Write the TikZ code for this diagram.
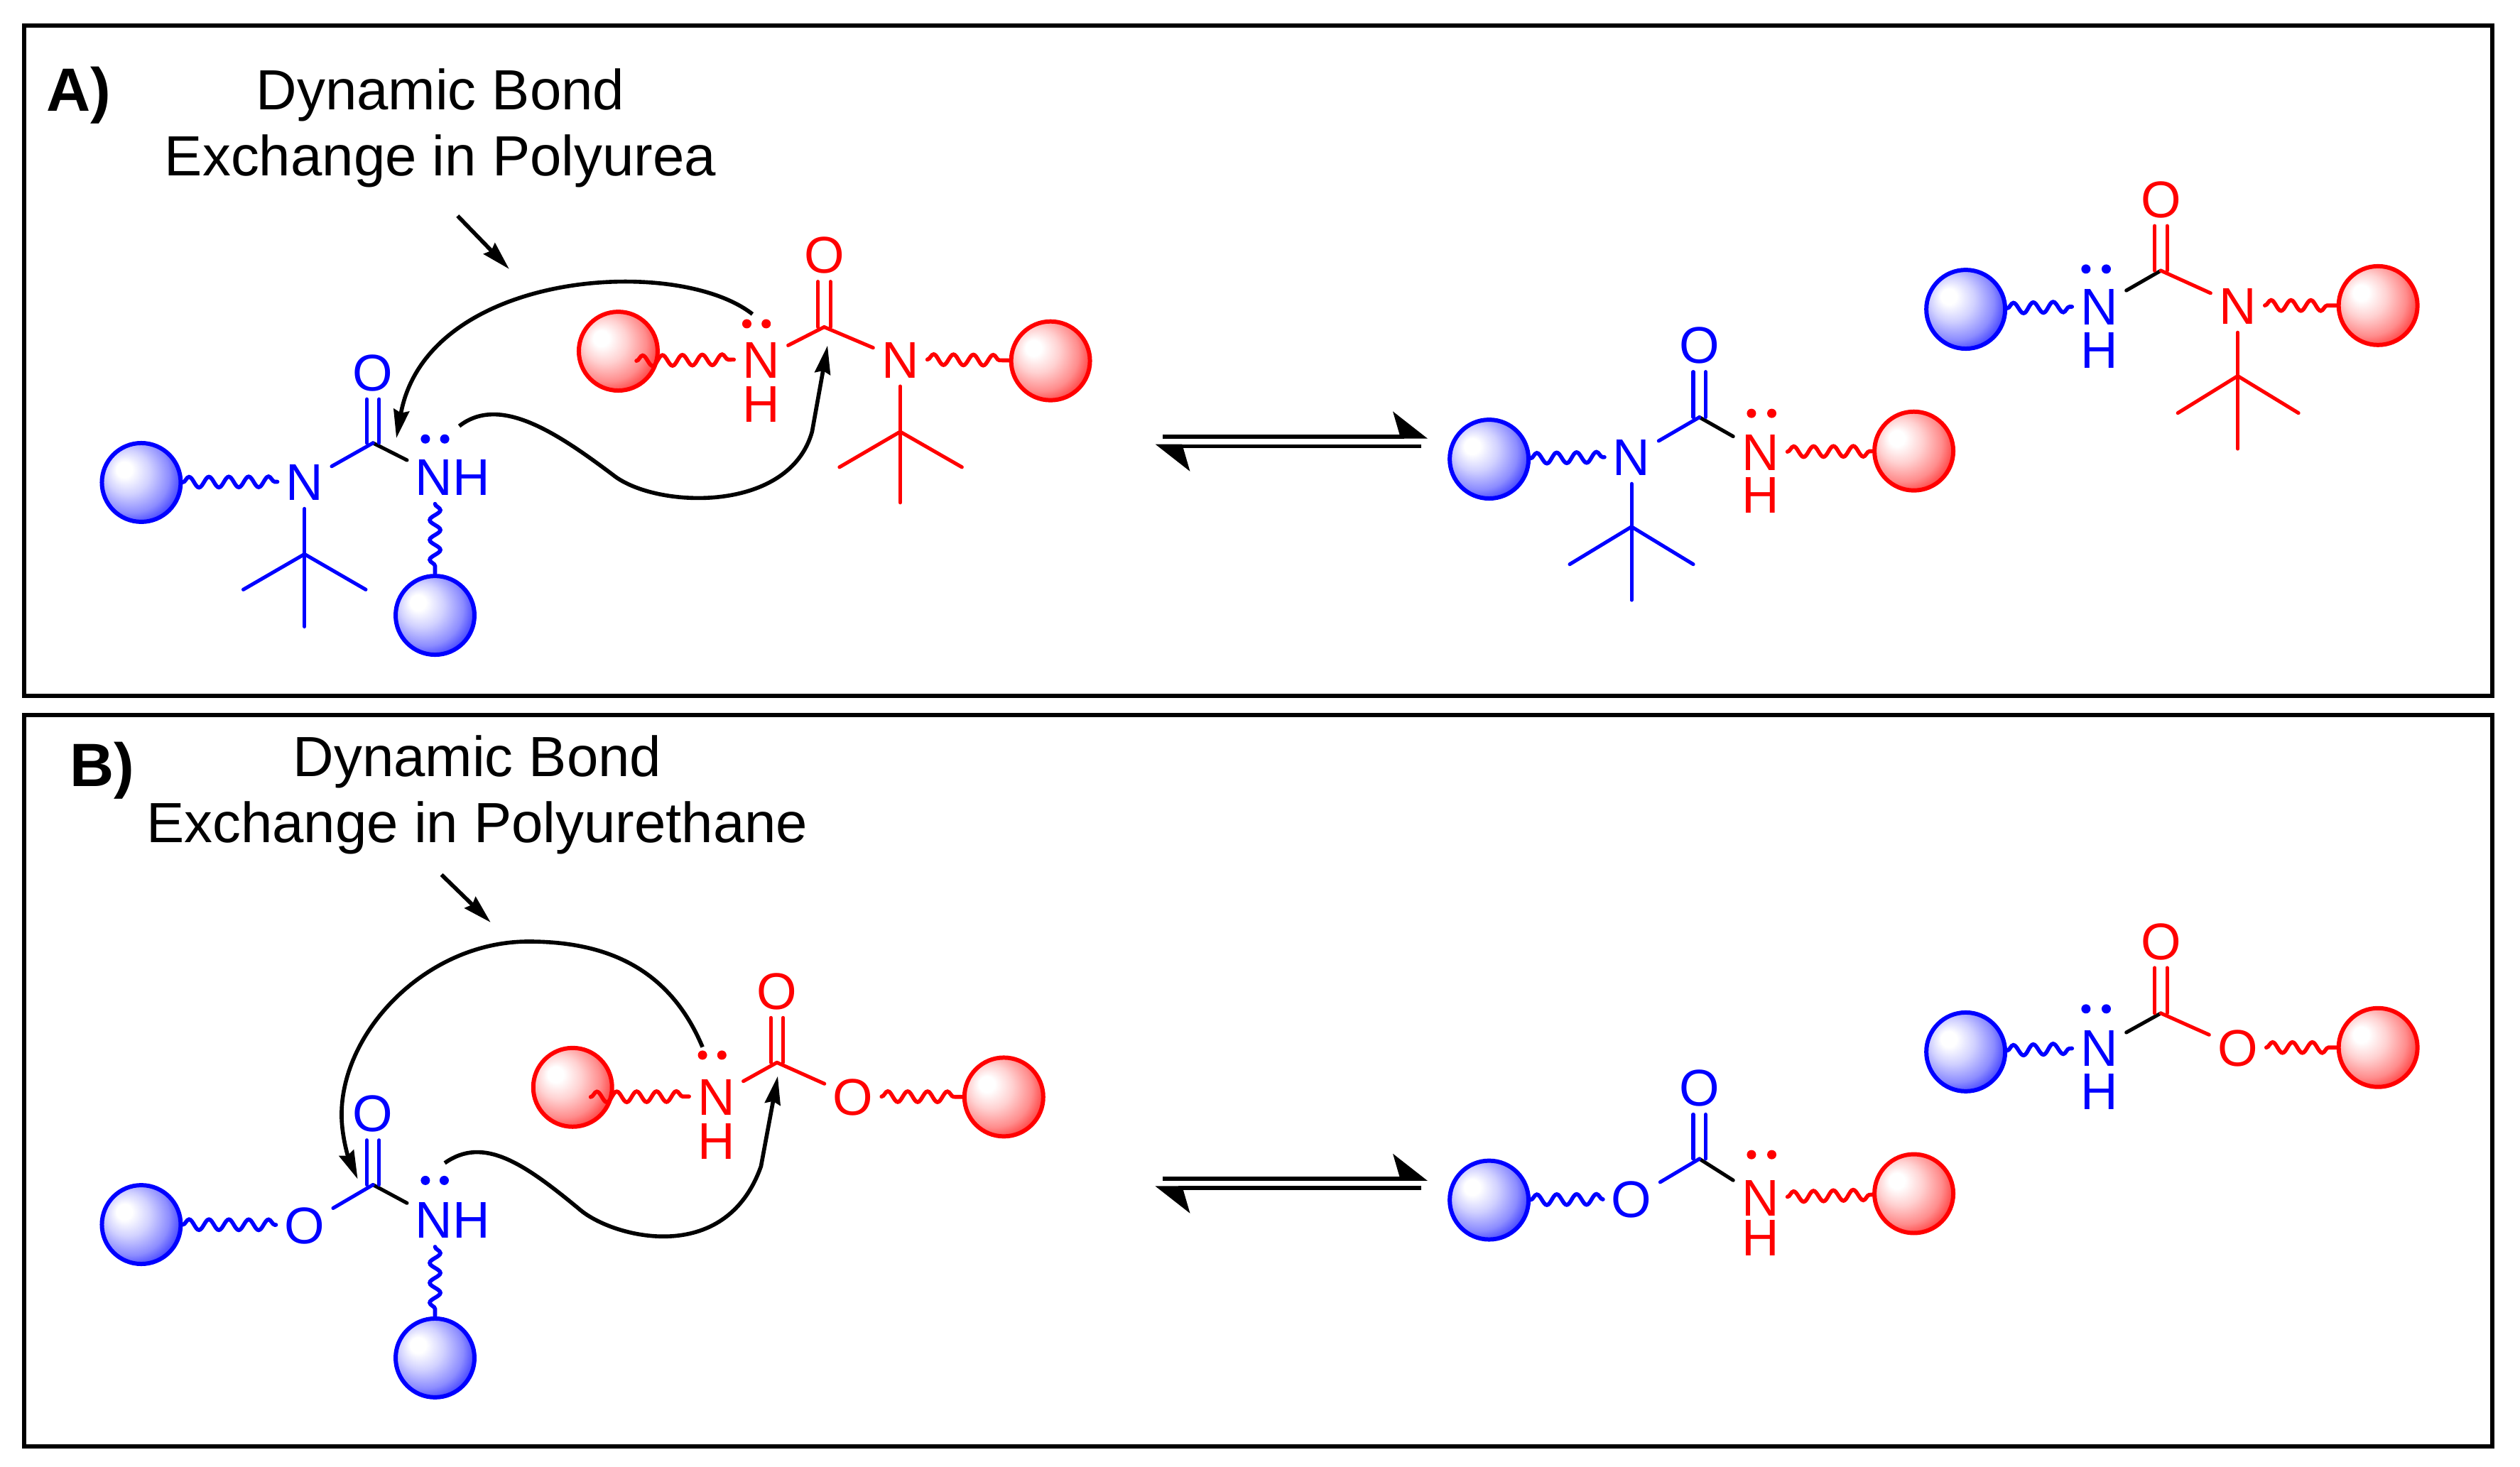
\documentclass[tikz,border=0pt]{standalone}
\usepackage{fontspec}
\setmainfont{Liberation Sans}
\usetikzlibrary{arrows.meta,decorations.pathmorphing}
\pgfdeclareradialshading{blueball}{\pgfpoint{-12bp}{9bp}}{color(0bp)=(white);color(5bp)=(white);color(14bp)=(blue!18!white);color(24bp)=(blue!45!white);color(33bp)=(blue!85!white);color(40bp)=(blue);color(50bp)=(blue)}
\pgfdeclareradialshading{redball}{\pgfpoint{-12bp}{9bp}}{color(0bp)=(white);color(5bp)=(white);color(14bp)=(red!18!white);color(24bp)=(red!45!white);color(33bp)=(red!85!white);color(40bp)=(red);color(50bp)=(red)}
\tikzset{
  atom/.style={text=#1,font=\fontsize{20.7}{24}\selectfont,inner sep=3.2pt,text height=14.9pt,text depth=0pt},
  title/.style={font=\fontsize{22.7}{26}\selectfont},
  tag/.style={font=\fontsize{24.5}{28}\selectfont\bfseries},
  ballblue/.style={circle,draw=blue,line width=1.7pt,minimum size=1.11cm,inner sep=0pt,shade,shading=blueball},
  ballred/.style={circle,draw=red,line width=1.7pt,minimum size=1.11cm,inner sep=0pt,shade,shading=redball},
  lonepair/.style={circle,fill=#1,minimum size=.13cm,inner sep=0pt},
  bonds/.style={every edge/.style={draw=#1,line width=1.45pt,line cap=round}},
  wavy/.style={decorate,decoration={snake,segment length=.28cm,amplitude=.075cm},line width=1.6pt},
  curly/.style={draw=black,line width=1.6pt,-{Stealth[length=.4cm,width=.22cm,inset=.04cm]}},
  equil/.style={draw=black,line width=1.6pt,-{Stealth[harpoon,length=.45cm,width=.7cm,inset=.1cm]}},
  panel/.style={draw=black,line width=1.7pt}
}
\begin{document}
\begin{tikzpicture}[x=0.022685cm,y=-0.022685cm]
  \useasboundingbox (0,0) rectangle (1564,910.7);
  \draw[panel] (15,16) rectangle (1547,432);
  \draw[panel] (15,444) rectangle (1547,898);

  \node[tag] (tagA) at (49,59) {A)};
  \node[title] (titleA1) at (273.3,58.9) {Dynamic Bond};
  \node[title] (titleA2) at (273.3,99.8) {Exchange in Polyurea};
  \node[tag] (tagB) at (63.5,478.5) {B)};
  \node[title] (titleB1) at (296.2,472.8) {Dynamic Bond};
  \node[title] (titleB2) at (296.2,513.7) {Exchange in Polyurethane};

  \node[ballblue] (ba1) at (87.7,299.5) {};
  \node[ballblue] (ba2) at (270,382) {};
  \node[ballred] (ra1) at (383.7,218) {};
  \node[ballred] (ra2) at (652,224) {};
  \node[ballblue] (bc1) at (924.2,285) {};
  \node[ballred] (rc1) at (1187.8,280) {};
  \node[ballblue] (bd1) at (1220,192) {};
  \node[ballred] (rd1) at (1475.9,189.7) {};
  \node[ballblue] (be1) at (87.7,760.2) {};
  \node[ballblue] (be2) at (270,843) {};
  \node[ballred] (rf1) at (355.4,675) {};
  \node[ballred] (rf2) at (623,681) {};
  \node[ballblue] (bg1) at (924.2,745) {};
  \node[ballred] (rg1) at (1187.8,741) {};
  \node[ballblue] (bh1) at (1220,653) {};
  \node[ballred] (rh1) at (1475.9,650.3) {};

  % panel A, left
  \begin{scope}[every node/.style={atom=blue}]
    \node (Na) at (189,299) {N};
    \node (Oa) at (231.5,231) {O};
    \node (NHa) at (281,296) {NH};
  \end{scope}
  \begin{scope}[every node/.style={atom=red}]
    \node (Nb) at (472.3,223) {N};
    \node (Hb) at (472.3,250.5) {H};
    \node (Ob) at (511.5,158) {O};
    \node (Nbb) at (558.7,223) {N};
  \end{scope}
  \coordinate (Ca) at (231.5,275);
  \coordinate (Ta) at (189,344);
  \coordinate (Ta1) at (151,366);
  \coordinate (Ta2) at (227,366);
  \coordinate (Ta3) at (189,389);
  \coordinate (Cb) at (511.5,203);
  \coordinate (Tb) at (558.7,268);
  \coordinate (Tb1) at (521,290);
  \coordinate (Tb2) at (597,290);
  \coordinate (Tb3) at (558.7,312);
  \coordinate (Wb) at (395,224);
  \node[lonepair=blue] (la1) at (264,272.5) {};
  \node[lonepair=blue] (la2) at (276,272.5) {};
  \node[lonepair=red] (lb1) at (463.5,201) {};
  \node[lonepair=red] (lb2) at (475.5,201) {};
  \begin{scope}[bonds=black]
    \path (Ca) edge (NHa.160);
  \end{scope}
  \begin{scope}[bonds=blue]
    \path (ba1) edge[wavy] (Na);
    \path (Ca) edge (Na);
    \path ([xshift=-.087cm]Ca) edge ([xshift=-.087cm]Oa.south);
    \path ([xshift=.087cm]Ca) edge ([xshift=.087cm]Oa.south);
    \path (Na) edge (Ta);
    \path (Ta) edge (Ta1);
    \path (Ta) edge (Ta2);
    \path (Ta) edge (Ta3);
    \path (ba2 |- NHa.south) edge[wavy] (ba2.north);
  \end{scope}
  \begin{scope}[bonds=red]
    \path (Wb) edge[wavy] (Nb);
    \path (Nbb) edge[wavy] (ra2);
    \path (Cb) edge (Nb);
    \path (Cb) edge (Nbb);
    \path ([xshift=-.087cm]Cb) edge ([xshift=-.087cm]Ob.south);
    \path ([xshift=.087cm]Cb) edge ([xshift=.087cm]Ob.south);
    \path (Nbb) edge (Tb);
    \path (Tb) edge (Tb1);
    \path (Tb) edge (Tb2);
    \path (Tb) edge (Tb3);
  \end{scope}

  \coordinate (ua1) at (467,195);
  \coordinate (ua2) at (246,272);
  \coordinate (va1) at (285,264.5);
  \coordinate (va2) at (382,296);
  \coordinate (va3) at (504,268);
  \coordinate (va4) at (513.6,214.5);
  \draw[curly] (ua1) .. controls (420,158) and (265,168) .. (ua2);
  \draw[curly] (va1) .. controls (310,245) and (345,268) .. (va2) .. controls (410,316) and (490,318) .. (va3) -- (va4);
  \coordinate (sa1) at (284,134);
  \coordinate (sa2) at (316,167);
  \draw[curly] (sa1) -- (sa2);

  \coordinate (eqa1) at (721.8,271);
  \coordinate (eqa2) at (886,271);
  \coordinate (eqa3) at (882,277);
  \coordinate (eqa4) at (717,277);
  \draw[equil] (eqa1) -- (eqa2);
  \draw[equil] (eqa3) -- (eqa4);

  % panel A, products
  \begin{scope}[every node/.style={atom=blue}]
    \node (Nc) at (1012.6,283.5) {N};
    \node (Oc) at (1054.7,214) {O};
    \node (Nd) at (1302.8,190) {N};
    \node (Hd) at (1302.8,217) {H};
  \end{scope}
  \begin{scope}[every node/.style={atom=red}]
    \node (Ncc) at (1092.5,280.5) {N};
    \node (Hc) at (1092.5,307) {H};
    \node (Ndd) at (1388.8,189.6) {N};
    \node (Od) at (1341.1,123.4) {O};
  \end{scope}
  \coordinate (Cc) at (1054.7,259);
  \coordinate (Tc) at (1012.6,327);
  \coordinate (Tc1) at (974.2,350.3);
  \coordinate (Tc2) at (1050.9,350.3);
  \coordinate (Tc3) at (1012.6,372.5);
  \coordinate (Cd) at (1341.1,168);
  \coordinate (Td) at (1388.8,233.4);
  \coordinate (Td1) at (1351.6,256.4);
  \coordinate (Td2) at (1426.5,256.4);
  \coordinate (Td3) at (1388.8,278.6);
  \node[lonepair=red] (lc1) at (1087,256.6) {};
  \node[lonepair=red] (lc2) at (1099.6,256.6) {};
  \node[lonepair=blue] (ld1) at (1294.6,167) {};
  \node[lonepair=blue] (ld2) at (1307.2,167) {};
  \begin{scope}[bonds=black]
    \path (Cc) edge (Ncc);
    \path (Cd) edge (Nd);
  \end{scope}
  \begin{scope}[bonds=blue]
    \path (bc1) edge[wavy] (Nc);
    \path (Cc) edge (Nc);
    \path ([xshift=-.087cm]Cc) edge ([xshift=-.087cm]Oc.south);
    \path ([xshift=.087cm]Cc) edge ([xshift=.087cm]Oc.south);
    \path (Nc) edge (Tc);
    \path (Tc) edge (Tc1);
    \path (Tc) edge (Tc2);
    \path (Tc) edge (Tc3);
    \path (bd1) edge[wavy] (Nd);
  \end{scope}
  \begin{scope}[bonds=red]
    \path (Ncc) edge[wavy] (rc1);
    \path (Ndd) edge[wavy] (rd1);
    \path (Cd) edge (Ndd);
    \path ([xshift=-.087cm]Cd) edge ([xshift=-.087cm]Od.south);
    \path ([xshift=.087cm]Cd) edge ([xshift=.087cm]Od.south);
    \path (Ndd) edge (Td);
    \path (Td) edge (Td1);
    \path (Td) edge (Td2);
    \path (Td) edge (Td3);
  \end{scope}

  % panel B, left
  \begin{scope}[every node/.style={atom=blue}]
    \node (Oe) at (189,760.4) {O};
    \node (Oee) at (231.5,691) {O};
    \node (NHe) at (281,757.2) {NH};
  \end{scope}
  \begin{scope}[every node/.style={atom=red}]
    \node (Nf) at (444.5,680.6) {N};
    \node (Hf) at (444.5,708) {H};
    \node (Of) at (482.2,615) {O};
    \node (Off) at (529.4,680.7) {O};
  \end{scope}
  \coordinate (Ce) at (231.5,735.5);
  \coordinate (Cf) at (482.2,659.6);
  \coordinate (Wf) at (366.6,681);
  \node[lonepair=blue] (le1) at (264,732.8) {};
  \node[lonepair=blue] (le2) at (275.7,732.8) {};
  \node[lonepair=red] (lf1) at (436,655) {};
  \node[lonepair=red] (lf2) at (448,655) {};
  \begin{scope}[bonds=black]
    \path (Ce) edge (NHe.160);
  \end{scope}
  \begin{scope}[bonds=blue]
    \path (be1) edge[wavy] (Oe);
    \path (Ce) edge (Oe);
    \path ([xshift=-.087cm]Ce) edge ([xshift=-.087cm]Oee.south);
    \path ([xshift=.087cm]Ce) edge ([xshift=.087cm]Oee.south);
    \path (be2 |- NHe.south) edge[wavy] (be2.north);
  \end{scope}
  \begin{scope}[bonds=red]
    \path (Wf) edge[wavy] (Nf);
    \path (Off) edge[wavy] (rf2);
    \path (Cf) edge (Nf);
    \path (Cf) edge (Off);
    \path ([xshift=-.087cm]Cf) edge ([xshift=-.087cm]Of.south);
    \path ([xshift=.087cm]Cf) edge ([xshift=.087cm]Of.south);
  \end{scope}

  \coordinate (ue1) at (436,650);
  \coordinate (ue2) at (328,584.5);
  \coordinate (ue3) at (212,692);
  \coordinate (ue4) at (222,732);
  \coordinate (ve1) at (276,722);
  \coordinate (ve2) at (360,751);
  \coordinate (ve3) at (472.3,724);
  \coordinate (ve4) at (482.7,668);
  \draw[curly] (ue1) .. controls (415,600) and (375,584.5) .. (ue2) .. controls (265,584.5) and (212,640) .. (ue3) .. controls (212,705) and (216,718) .. (ue4);
  \draw[curly] (ve1) .. controls (300,705) and (325,722) .. (ve2) .. controls (380,768) and (450,787) .. (ve3) -- (ve4);
  \coordinate (se1) at (274,543);
  \coordinate (se2) at (304.5,572.6);
  \draw[curly] (se1) -- (se2);

  \coordinate (eqe1) at (721.8,731.8);
  \coordinate (eqe2) at (886,731.8);
  \coordinate (eqe3) at (882,737.6);
  \coordinate (eqe4) at (717,737.6);
  \draw[equil] (eqe1) -- (eqe2);
  \draw[equil] (eqe3) -- (eqe4);

  % panel B, products
  \begin{scope}[every node/.style={atom=blue}]
    \node (Og) at (1012.6,744.4) {O};
    \node (Ogg) at (1054.7,675) {O};
    \node (Nh) at (1302.8,650.3) {N};
    \node (Hh) at (1302.8,677) {H};
  \end{scope}
  \begin{scope}[every node/.style={atom=red}]
    \node (Ng) at (1092.5,743.4) {N};
    \node (Hg) at (1092.5,768) {H};
    \node (Oh) at (1341.1,584) {O};
    \node (Ohh) at (1388.8,650.3) {O};
  \end{scope}
  \coordinate (Cg) at (1054.7,719.4);
  \coordinate (Ch) at (1341.1,629);
  \node[lonepair=red] (lg1) at (1087,716.8) {};
  \node[lonepair=red] (lg2) at (1099.6,716.8) {};
  \node[lonepair=blue] (lh1) at (1294.6,626.3) {};
  \node[lonepair=blue] (lh2) at (1307.2,626.3) {};
  \begin{scope}[bonds=black]
    \path (Cg) edge (Ng);
    \path (Ch) edge (Nh);
  \end{scope}
  \begin{scope}[bonds=blue]
    \path (bg1) edge[wavy] (Og);
    \path (Cg) edge (Og);
    \path ([xshift=-.087cm]Cg) edge ([xshift=-.087cm]Ogg.south);
    \path ([xshift=.087cm]Cg) edge ([xshift=.087cm]Ogg.south);
    \path (bh1) edge[wavy] (Nh);
  \end{scope}
  \begin{scope}[bonds=red]
    \path (Ng) edge[wavy] (rg1);
    \path (Ohh) edge[wavy] (rh1);
    \path (Ch) edge (Ohh);
    \path ([xshift=-.087cm]Ch) edge ([xshift=-.087cm]Oh.south);
    \path ([xshift=.087cm]Ch) edge ([xshift=.087cm]Oh.south);
  \end{scope}
\end{tikzpicture}
\end{document}
